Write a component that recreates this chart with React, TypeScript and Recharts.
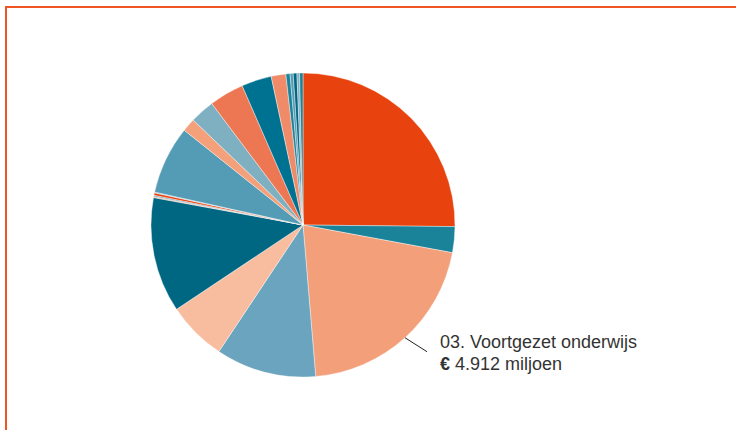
import { PieChart, Pie, Cell } from "recharts";

// Begrotingsartikelen (bedragen in miljoenen euro), met de klok mee vanaf 12 uur
const articles = [
  "01. Primair onderwijs",
  "02. Speciaal onderwijs",
  "03. Voortgezet onderwijs",
  "04. Beroepsonderwijs",
  "05. Volwasseneneducatie",
  "06. Hoger beroepsonderwijs",
  "07. Art. 07",
  "08. Art. 08",
  "09. Art. 09",
  "10. Art. 10",
  "11. Wetenschappelijk onderwijs",
  "12. Art. 12",
  "13. Art. 13",
  "14. Art. 14",
  "15. Art. 15",
  "16. Art. 16",
  "17. Art. 17",
  "18. Art. 18",
  "19. Art. 19",
  "20. Art. 20",
  "21. Art. 21",
];

const amounts = [
  5958, 651, 4912, 2525, 1493, 2900, 26, 33, 59, 20, 1716, 335, 618, 875, 756,
  368, 105, 79, 92, 66, 85,
];

const colors = [
  "#E8420E", "#1A8399", "#F39F7A", "#6AA4BE", "#F8BC9F", "#006783",
  "#F3A07B", "#6AA4BE", "#E8420E", "#80B0C2", "#549BB6", "#F3A07B",
  "#7FB0C2", "#EE7753", "#007291", "#F08B6A", "#1A8399", "#549BB6",
  "#006783", "#80B0C2", "#1A8399",
];

const labelIndex = 2;
const labelName = "03. Voortgezet onderwijs";
const labelAmount = "4.912 miljoen";

const data = articles.map((name, i) => ({ name, value: amounts[i] }));

const RADIAN = Math.PI / 180;

function renderLabel(props: any) {
  const { cx, cy, midAngle, outerRadius, index } = props;
  if (index !== labelIndex) return null;
  const sx = cx + outerRadius * Math.cos(-midAngle * RADIAN);
  const sy = cy + outerRadius * Math.sin(-midAngle * RADIAN);
  const ex = sx + 22;
  const ey = sy + 14;
  return (
    <g>
      <line x1={sx} y1={sy} x2={ex} y2={ey} stroke="#222" strokeWidth={1} />
      <text
        fill="#333"
        fontSize={18}
        fontFamily="'Liberation Sans', Arial, sans-serif"
      >
        <tspan x={ex + 13} y={ey - 4}>{labelName}</tspan>
        <tspan x={ex + 13} y={ey + 18} fontWeight="bold">€</tspan>
        <tspan> {labelAmount}</tspan>
      </text>
    </g>
  );
}

export default function App() {
  return (
    <div
      style={{
        position: "absolute",
        left: 0,
        top: 0,
        width: 736,
        height: 430,
        overflow: "hidden",
        background: "#fff",
      }}
    >
      <div
        style={{
          position: "absolute",
          left: 5,
          top: 6,
          width: 731,
          height: 424,
          borderTop: "2px solid #EF5424",
          borderLeft: "2px solid #EF5424",
          boxSizing: "border-box",
        }}
      />
      <PieChart
        width={736}
        height={430}
        margin={{ top: 0, right: 0, bottom: 0, left: 0 }}
        style={{ position: "absolute", left: 0, top: 0 }}
      >
        <Pie
          data={data}
          dataKey="value"
          nameKey="name"
          cx={303}
          cy={225}
          outerRadius={152}
          startAngle={90}
          endAngle={-270}
          stroke="#fff"
          strokeWidth={0.4}
          label={renderLabel}
          labelLine={false}
          isAnimationActive={false}
        >
          {data.map((d, i) => (
            <Cell key={d.name} fill={colors[i]} />
          ))}
        </Pie>
      </PieChart>
    </div>
  );
}
